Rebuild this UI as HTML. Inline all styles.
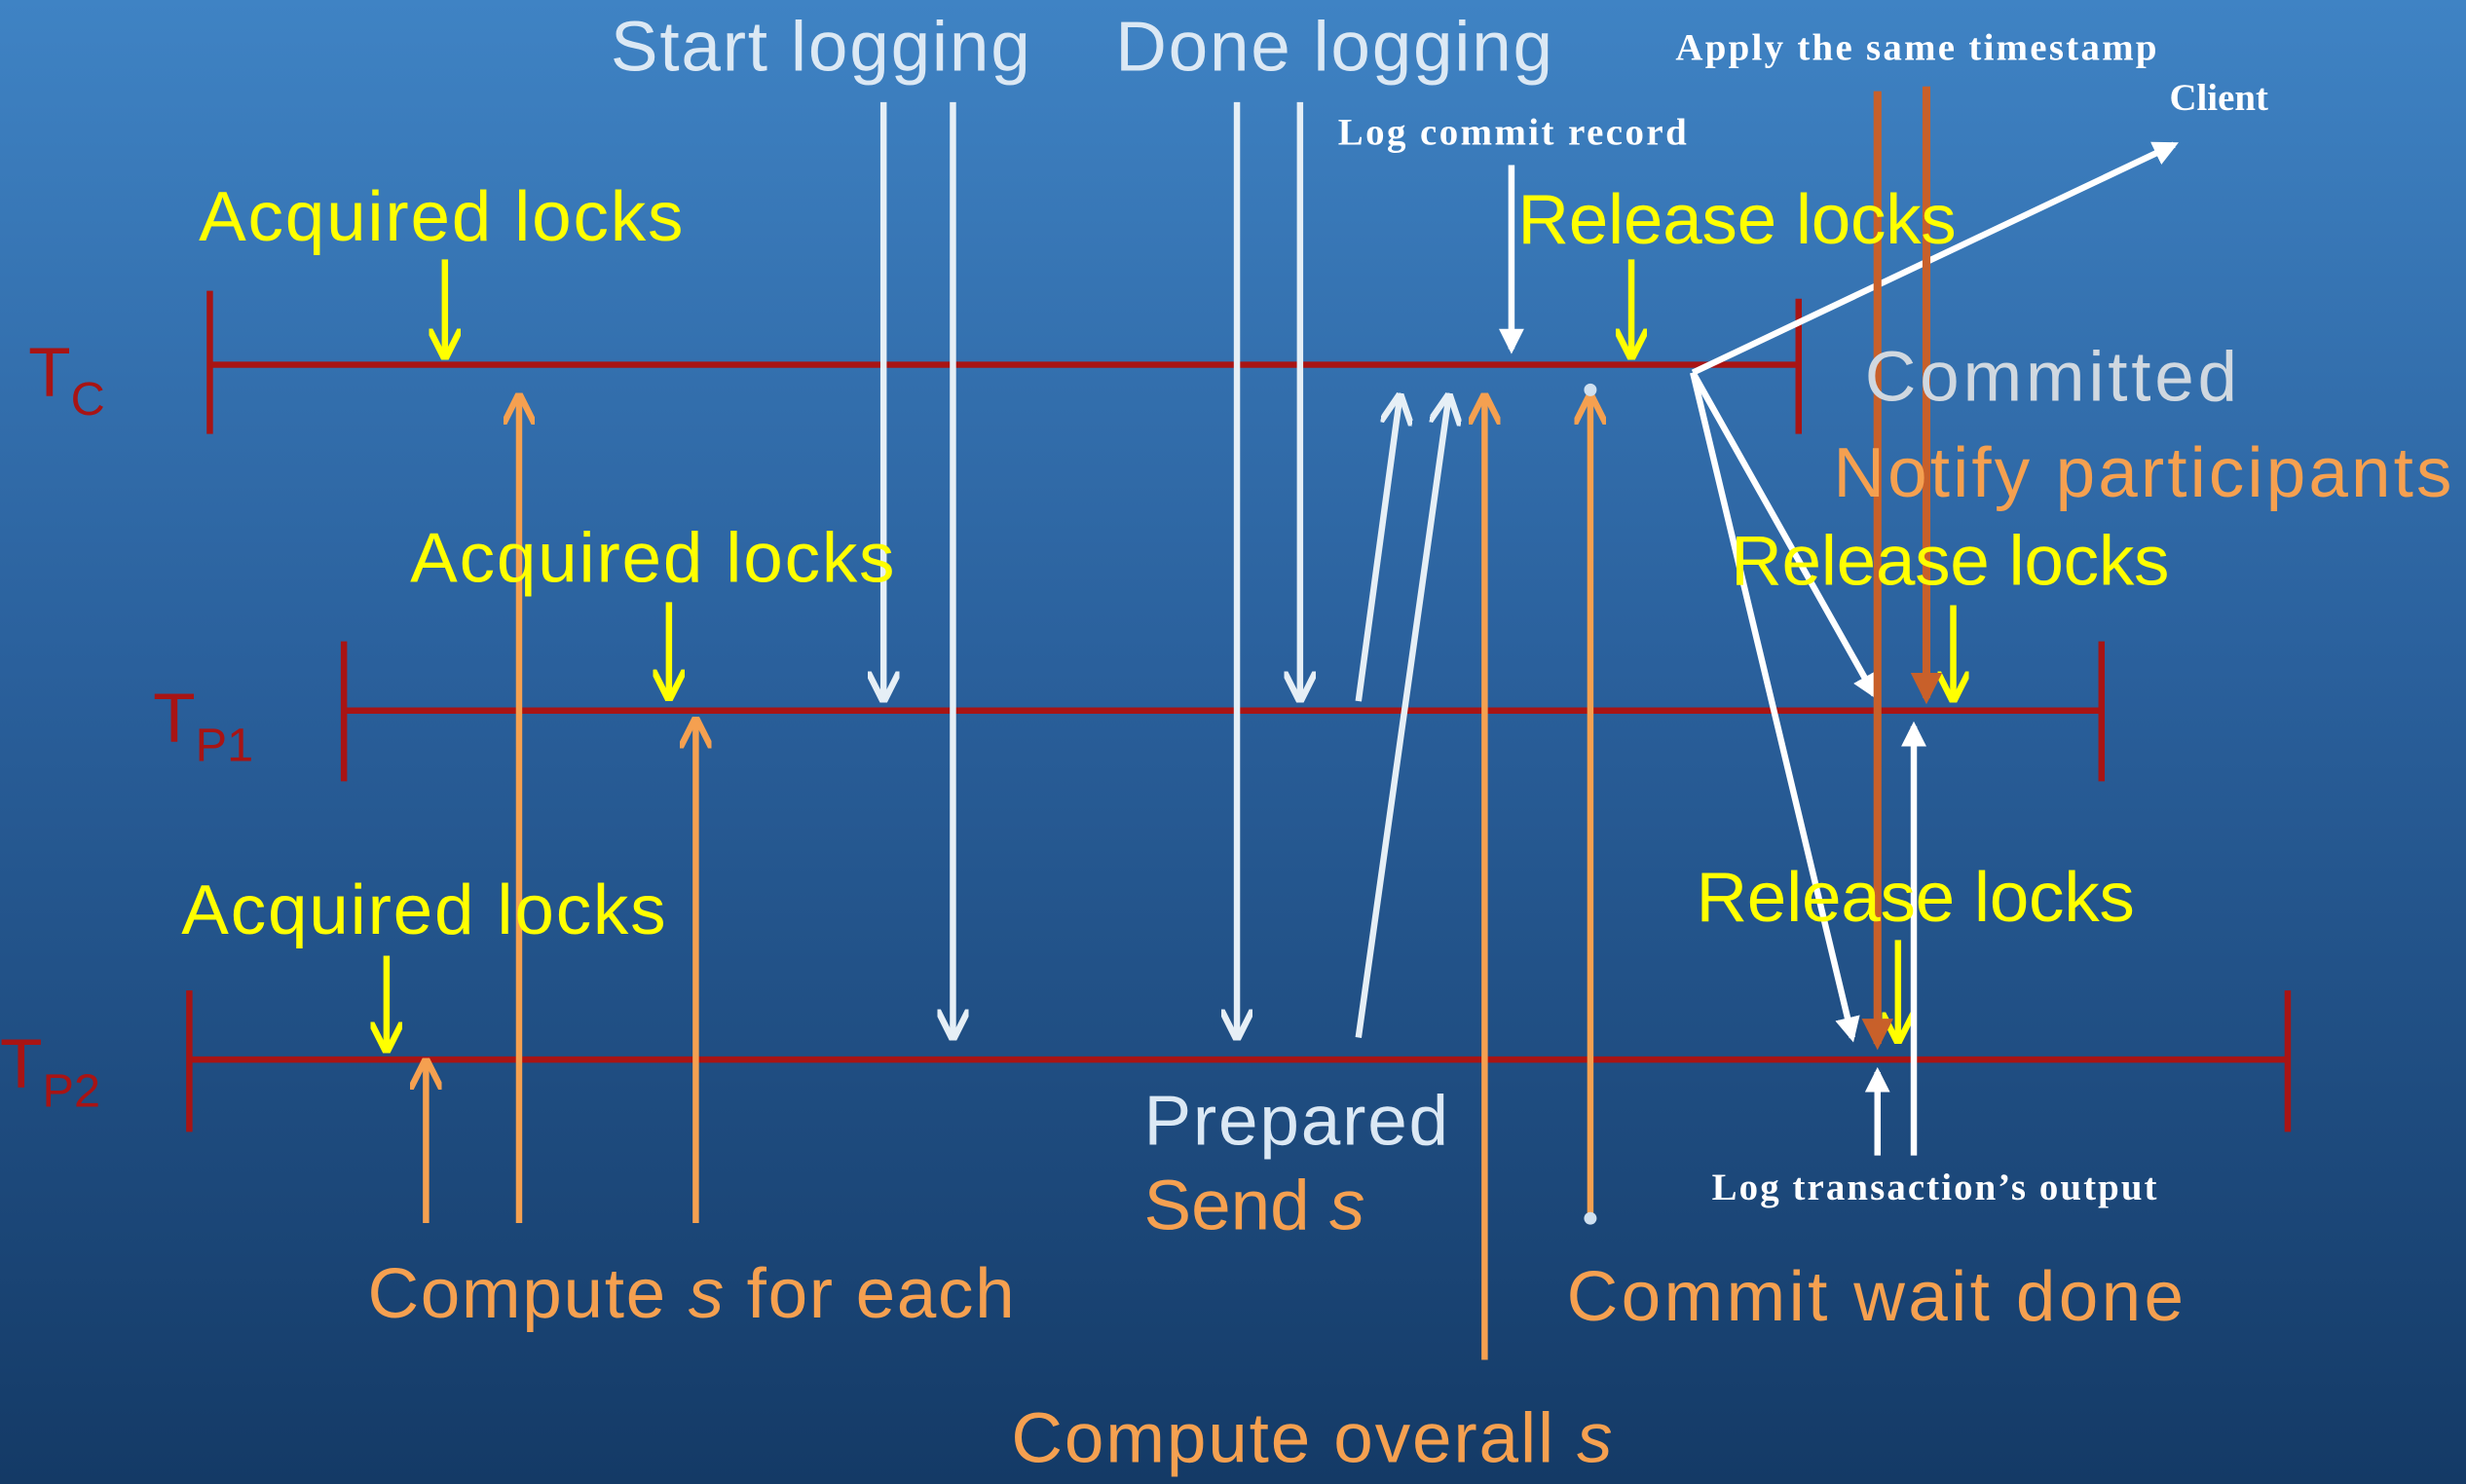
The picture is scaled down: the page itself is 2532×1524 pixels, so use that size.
<!DOCTYPE html>
<html><head><meta charset="utf-8"><style>
html,body{margin:0;padding:0;width:2532px;height:1524px;overflow:hidden}
svg{display:block}
.s{font-family:"Liberation Sans",sans-serif}
.r{font-family:"Liberation Serif",serif;font-weight:bold;fill:#fff;font-size:24px}
</style></head><body>
<svg width="2532" height="1524" viewBox="0 0 1563 944" preserveAspectRatio="none">
<defs>
<linearGradient id="bg" x1="0" y1="0" x2="0" y2="1">
<stop offset="0" stop-color="#3f83c4"/><stop offset="0.45" stop-color="#2a609c"/><stop offset="1" stop-color="#143a66"/>
</linearGradient>
<marker id="aw" viewBox="0 0 10 10" refX="8" refY="5" markerWidth="5" markerHeight="5" orient="auto"><path d="M0,0 L10,5 L0,10" fill="none" stroke="#e6eff6" stroke-width="2"/></marker>
<marker id="aW" viewBox="0 0 10 10" refX="8" refY="5" markerWidth="4" markerHeight="4" orient="auto"><path d="M0,0 L10,5 L0,10 z" fill="#fff"/></marker>
<marker id="ay" viewBox="0 0 10 10" refX="8" refY="5" markerWidth="5" markerHeight="5" orient="auto"><path d="M0,0 L10,5 L0,10" fill="none" stroke="#ffff00" stroke-width="2"/></marker>
<marker id="ao" viewBox="0 0 10 10" refX="8" refY="5" markerWidth="5" markerHeight="5" orient="auto"><path d="M0,0 L10,5 L0,10" fill="none" stroke="#f5a050" stroke-width="2"/></marker>
<marker id="ad" viewBox="0 0 10 10" refX="8" refY="5" markerWidth="4" markerHeight="4" orient="auto"><path d="M0,0 L10,5 L0,10 z" fill="#c8602a"/></marker>
</defs>
<rect width="1563" height="944" fill="url(#bg)"/>
<g stroke="#a81414" stroke-width="4">
<line x1="133" y1="232" x2="1140" y2="232"/><line x1="133" y1="185" x2="133" y2="276"/><line x1="1140" y1="190" x2="1140" y2="276"/>
<line x1="218" y1="452" x2="1332" y2="452"/><line x1="218" y1="408" x2="218" y2="497"/><line x1="1332" y1="408" x2="1332" y2="497"/>
<line x1="120" y1="674" x2="1450" y2="674"/><line x1="120" y1="630" x2="120" y2="720"/><line x1="1450" y1="630" x2="1450" y2="720"/>
</g>
<g class="s" fill="#a81414">
<text x="18" y="252" font-size="44">T<tspan font-size="30" dy="12">C</tspan></text>
<text x="97" y="472" font-size="44">T<tspan font-size="30" dy="12">P1</tspan></text>
<text x="0" y="692" font-size="44">T<tspan font-size="30" dy="12">P2</tspan></text>
</g>
<!-- white light arrows -->
<g stroke="#e6eff6" stroke-width="4" fill="none" marker-end="url(#aw)">
<line x1="560" y1="65" x2="560" y2="443"/><line x1="604" y1="65" x2="604" y2="658"/>
<line x1="784" y1="65" x2="784" y2="658"/><line x1="824" y1="65" x2="824" y2="443"/>
<line x1="861" y1="446" x2="887" y2="254"/><line x1="861" y1="660" x2="918" y2="254"/>
</g>
<!-- orange arrows -->
<g stroke="#f5a050" stroke-width="4" fill="none" marker-end="url(#ao)">
<line x1="270" y1="778" x2="270" y2="677"/><line x1="329" y1="778" x2="329" y2="254"/>
<line x1="441" y1="778" x2="441" y2="460"/><line x1="941" y1="865" x2="941" y2="254"/>
<line x1="1008" y1="775" x2="1008" y2="254"/>
</g>
<circle cx="1008" cy="775" r="4" fill="#cfe0f0"/><circle cx="1008" cy="248" r="4" fill="#cfe0f0"/>
<!-- yellow arrows -->
<g stroke="#ffff00" stroke-width="4" fill="none" marker-end="url(#ay)">
<line x1="282" y1="165" x2="282" y2="225"/><line x1="424" y1="383" x2="424" y2="442"/>
<line x1="245" y1="608" x2="245" y2="666"/><line x1="1034" y1="165" x2="1034" y2="225"/>
<line x1="1238" y1="385" x2="1238" y2="443"/><line x1="1203" y1="598" x2="1203" y2="660"/>
</g>
<!-- white solid arrows -->
<g stroke="#fff" stroke-width="4" fill="none" marker-end="url(#aW)">
<line x1="958" y1="105" x2="958" y2="222"/>
<line x1="1073" y1="237" x2="1378" y2="92"/>
<line x1="1073" y1="237" x2="1188" y2="442"/>
<line x1="1073" y1="237" x2="1174" y2="660"/>
<line x1="1190" y1="735" x2="1190" y2="682"/>
<line x1="1213" y1="735" x2="1213" y2="462"/>
</g>
<g stroke="#c8602a" stroke-width="5" fill="none" marker-end="url(#ad)">
<line x1="1190" y1="58" x2="1190" y2="664"/><line x1="1221" y1="55" x2="1221" y2="444"/>
</g>
<g class="s" font-size="45">
<text x="387" y="45" fill="#dbe8f4" textLength="266">Start logging</text>
<text x="707" y="45" fill="#dbe8f4" textLength="277">Done logging</text>
<text x="126" y="153" fill="#ffff00" textLength="307">Acquired locks</text>
<text x="260" y="370" fill="#ffff00" textLength="307">Acquired locks</text>
<text x="115" y="594" fill="#ffff00" textLength="307">Acquired locks</text>
<text x="962" y="155" fill="#ffff00" textLength="278">Release locks</text>
<text x="1097" y="372" fill="#ffff00" textLength="278">Release locks</text>
<text x="1075" y="586" fill="#ffff00" textLength="278">Release locks</text>
<text x="1182" y="255" fill="#d0d8e0" textLength="236">Committed</text>
<text x="1162" y="316" fill="#f5a050" textLength="392">Notify participants</text>
<text x="725" y="728" fill="#dbe8f4" textLength="193">Prepared</text>
<text x="725" y="782" fill="#f5a050">Send <tspan font-style="italic">s</tspan></text>
<text x="233" y="838" fill="#f5a050" textLength="410">Compute <tspan font-style="italic">s</tspan> for each</text>
<text x="993" y="840" fill="#f5a050" textLength="391">Commit wait done</text>
<text x="641" y="930" fill="#f5a050" textLength="381">Compute overall <tspan font-style="italic">s</tspan></text>
</g>
<text class="r" x="1062" y="38" textLength="305">Apply the same timestamp</text>
<text class="r" x="1375" y="70">Client</text>
<text class="r" x="848" y="92" textLength="221">Log commit record</text>
<text class="r" x="1085" y="763" textLength="282">Log transaction’s output</text>
</svg>
</body></html>
